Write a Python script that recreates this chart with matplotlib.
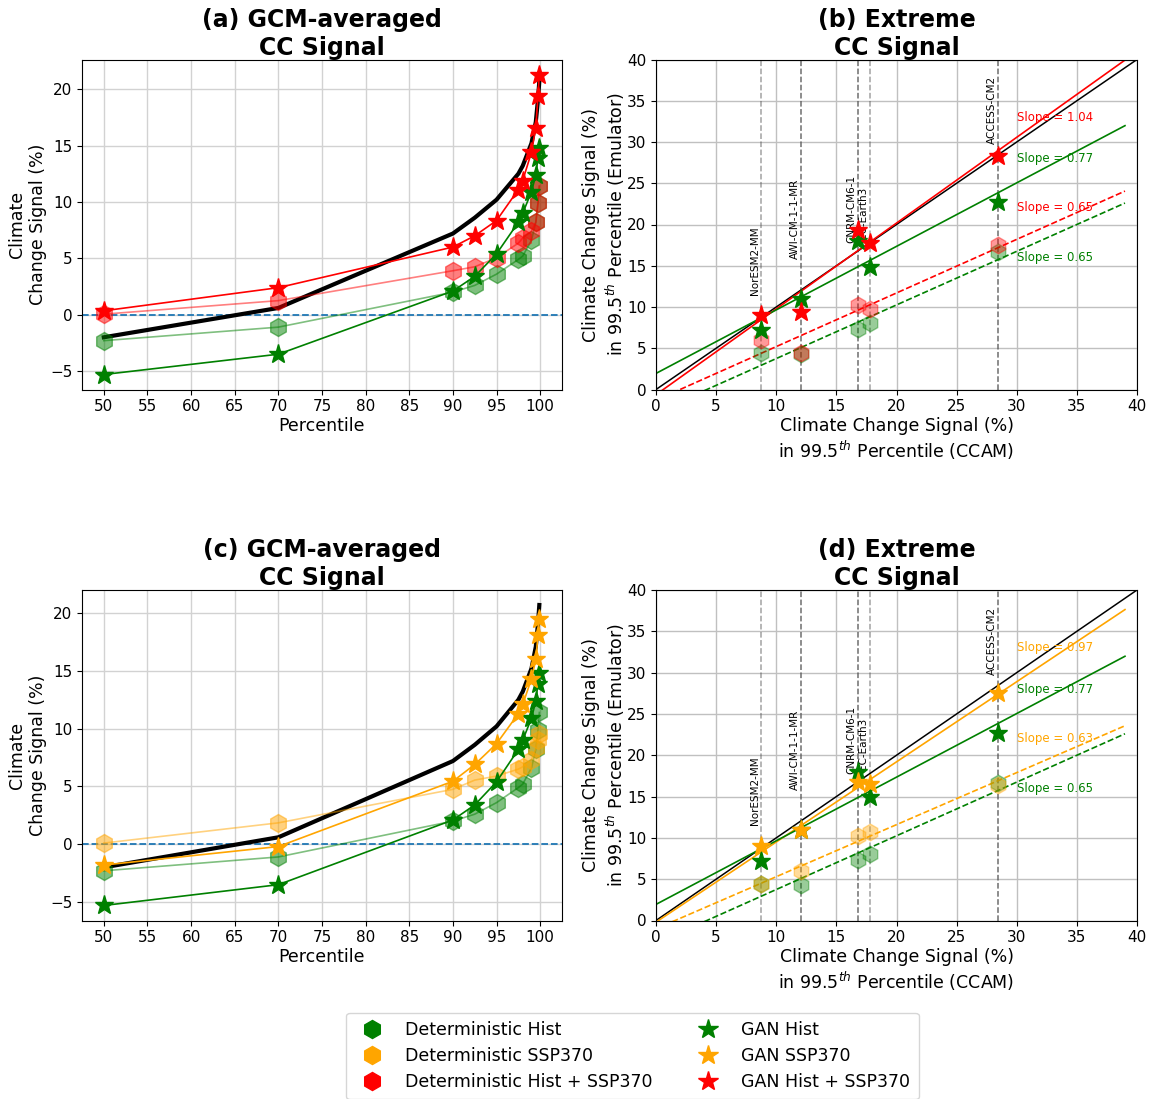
import numpy as np
import matplotlib
matplotlib.use("Agg")
import matplotlib.pyplot as plt
from matplotlib.lines import Line2D

# ---------------- data ----------------
percentiles = [50, 70, 90, 92.5, 95, 97.5, 98, 99, 99.5, 99.75, 99.9]
ccam_avg = [-2.0, 0.6, 7.2, 8.6, 10.2, 12.5, 13.2, 15.2, 17.1, 19.1, 20.7]

det_hist = [-2.3, -1.1, 2.0, 2.6, 3.6, 4.9, 5.2, 6.6, 8.2, 9.9, 11.4]
det_hist_ssp = [0.05, 1.25, 3.9, 4.25, 5.05, 6.35, 6.8, 7.4, 8.2, 9.9, 11.4]
det_ssp = [0.1, 1.85, 4.75, 5.55, 5.9, 6.5, 6.7, 7.3, 8.3, 9.0, 9.5]
gan_hist = [-5.3, -3.5, 2.1, 3.4, 5.4, 8.2, 9.0, 10.9, 12.4, 13.9, 14.8]
gan_hist_ssp = [0.35, 2.4, 6.0, 7.0, 8.35, 11.1, 11.9, 14.4, 16.6, 19.4, 21.3]
gan_ssp = [-1.8, -0.2, 5.45, 6.9, 8.7, 11.3, 12.1, 14.3, 16.0, 18.1, 19.5]

gcm_names = ["NorESM2-MM", "AWI-CM-1-1-MR", "CNRM-CM6-1", "EC-Earth3", "ACCESS-CM2"]
ccam_995 = [8.74, 12.07, 16.78, 17.77, 28.42]
gan_hist_995 = [7.2, 11.0, 18.0, 14.9, 22.7]
gan_hist_ssp_995 = [9.0, 9.35, 19.3, 17.7, 28.3]
gan_ssp_995 = [9.05, 11.0, 16.8, 16.5, 27.5]
det_hist_995 = [4.45, 4.35, 7.3, 8.1, 16.7]
det_hist_ssp_995 = [6.05, 4.4, 10.3, 9.7, 17.5]
det_ssp_995 = [4.4, 6.05, 10.25, 10.7, 16.4]

# fitted lines: (slope, intercept)
fit_b = {"gan_hist_ssp": (1.04, -0.63), "gan_hist": (0.77, 1.95),
         "det_hist_ssp": (0.65, -1.3), "det_hist": (0.65, -2.75)}
fit_d = {"gan_ssp": (0.97, -0.2), "gan_hist": (0.77, 1.95),
         "det_ssp": (0.63, -1.0), "det_hist": (0.65, -2.75)}

pct_xticks = list(range(50, 101, 5))
pct_yticks = [-5, 0, 5, 10, 15, 20]
sc_ticks = list(range(0, 41, 5))
sc_lims = [0, 40]

# ---------------- style ----------------
GREEN, ORANGE, RED = "green", "orange", "red"
TICK_FS = 11
LABEL_FS = 12.5
TITLE_FS = 17

fig = plt.figure(figsize=(11.51, 10.99), dpi=100)
W, H = 1151.0, 1099.0


def add_ax(l, t, r, b):
    return fig.add_axes([l / W, 1 - b / H, (r - l) / W, (b - t) / H])


ax_a = add_ax(82, 59.5, 562, 389.5)
ax_b = add_ax(656, 59.5, 1137, 389.5)
ax_c = add_ax(82, 590, 562, 920.5)
ax_d = add_ax(656, 590, 1137, 920.5)


def pct_panel(ax, title, det_series, gan_series):
    ax.plot(percentiles, ccam_avg, color="black", lw=3.0, zorder=2)
    for vals, col in det_series:
        ax.plot(percentiles, vals, color=col, marker="h", ms=13, lw=1.2,
                alpha=0.5, zorder=2)
    for vals, col in gan_series:
        ax.plot(percentiles, vals, color=col, marker="*", ms=14, lw=1.2,
                zorder=2)
    ax.axhline(0, color="tab:blue", ls="--", lw=1.3, zorder=1)
    ax.set_xticks(pct_xticks)
    ax.set_yticks(pct_yticks)
    ax.set_xlim(47.5, 102.5)
    ax.grid(True, color="#d2d2d2", lw=1.0)
    ax.set_axisbelow(True)
    ax.tick_params(labelsize=TICK_FS)
    ax.set_xlabel("Percentile", fontsize=LABEL_FS, labelpad=2)
    ax.set_ylabel("Climate\nChange Signal (%)", fontsize=LABEL_FS, labelpad=2)
    ax.set_title(title, fontsize=TITLE_FS, fontweight="bold", pad=3)


def sc_panel(ax, title, det_items, gan_items, fits, fit_cols, fit_styles):
    vline_alpha = [0.55, 0.85, 0.85, 0.55, 0.85]
    for x, a in zip(ccam_995, vline_alpha):
        ax.axvline(x, color="#555555", ls="--", lw=1.1, alpha=a, zorder=1)
    label_y = [11.5, 15.8, 17.7, 18.2, 29.7]
    for x, name, y in zip(ccam_995, gcm_names, label_y):
        ax.text(x - 0.1, y, name, rotation=90, ha="right", va="bottom",
                fontsize=7.5, zorder=3)
    ax.plot(sc_lims, sc_lims, color="black", lw=1.1, zorder=2)
    xf = np.linspace(0, 39, 200)
    text_y = [33, 28, 22, 16]
    for (key, (s, b)), col, ls, ty in zip(fits.items(), fit_cols, fit_styles, text_y):
        ax.plot(xf, s * xf + b, color=col, ls=ls, lw=1.2, zorder=2)
        ax.text(30, ty, f"Slope = {s:.2f}", color=col, fontsize=8.5,
                va="center", ha="left", zorder=3)
    for vals, col in det_items:
        ax.plot(ccam_995, vals, ls="none", marker="h", ms=12, color=col,
                alpha=0.4, zorder=3)
    for vals, col in gan_items:
        ax.plot(ccam_995, vals, ls="none", marker="*", ms=14, color=col,
                zorder=4)
    ax.set_xlim(sc_lims)
    ax.set_ylim(sc_lims)
    ax.set_xticks(sc_ticks)
    ax.set_yticks(sc_ticks)
    ax.grid(True, color="#c0c0c0", lw=1.0)
    ax.set_axisbelow(True)
    ax.tick_params(labelsize=TICK_FS)
    ax.set_xlabel("Climate Change Signal (%)\nin 99.5$^{th}$ Percentile (CCAM)",
                  fontsize=LABEL_FS, labelpad=2)
    ax.set_ylabel("Climate Change Signal (%)\nin 99.5$^{th}$ Percentile (Emulator)",
                  fontsize=LABEL_FS, labelpad=0)
    ax.set_title(title, fontsize=TITLE_FS, fontweight="bold", pad=3)


pct_panel(ax_a, "(a) GCM-averaged\nCC Signal",
          [(det_hist, GREEN), (det_hist_ssp, RED)],
          [(gan_hist, GREEN), (gan_hist_ssp, RED)])
pct_panel(ax_c, "(c) GCM-averaged\nCC Signal",
          [(det_hist, GREEN), (det_ssp, ORANGE)],
          [(gan_hist, GREEN), (gan_ssp, ORANGE)])

sc_panel(ax_b, "(b) Extreme\nCC Signal",
         [(det_hist_995, GREEN), (det_hist_ssp_995, RED)],
         [(gan_hist_995, GREEN), (gan_hist_ssp_995, RED)],
         fit_b, [RED, GREEN, RED, GREEN], ["-", "-", "--", "--"])
sc_panel(ax_d, "(d) Extreme\nCC Signal",
         [(det_hist_995, GREEN), (det_ssp_995, ORANGE)],
         [(gan_hist_995, GREEN), (gan_ssp_995, ORANGE)],
         fit_d, [ORANGE, GREEN, ORANGE, GREEN], ["-", "-", "--", "--"])

legend_labels = ["Deterministic Hist", "Deterministic SSP370", "Deterministic Hist + SSP370",
                 "GAN Hist", "GAN SSP370", "GAN Hist + SSP370"]
legend_cols = [GREEN, ORANGE, RED, GREEN, ORANGE, RED]
legend_markers = ["h", "h", "h", "*", "*", "*"]
handles = [Line2D([], [], ls="none", marker=m, color=c, ms=13 if m == "h" else 15)
           for m, c in zip(legend_markers, legend_cols)]
fig.legend(handles, legend_labels, loc="center", bbox_to_anchor=(632.5 / W, 1 - 1056 / H),
           ncol=2, fontsize=12.5, columnspacing=2.2, handletextpad=0.9,
           borderpad=0.5, labelspacing=0.45)

fig.savefig("out.png", dpi=100)
